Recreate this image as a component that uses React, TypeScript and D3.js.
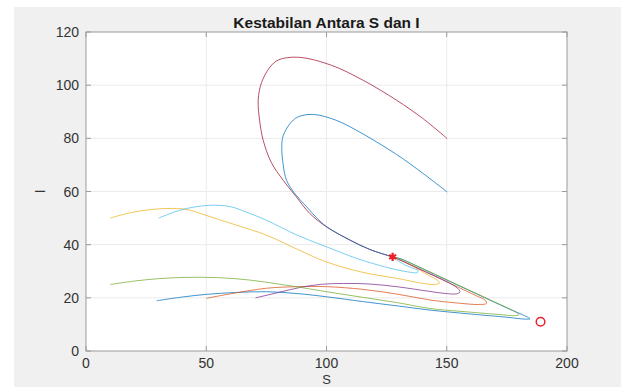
import React from 'react'
import * as d3 from 'd3'

// trajectory points [S, I]
const traj1: [number, number][] = [
    [29.4, 18.9], [40, 20.3], [50, 21.3], [62, 22.0], [75, 22.3], [88, 21.6], [100, 20.4],
    [115, 18.6], [130, 16.9], [143, 15.4], [160, 13.9], [175, 12.7], [182.5, 12.0], [184.6, 12.1],
    [183, 13.0], [175, 16.2], [165, 20.4], [155, 24.6], [145, 28.8], [137, 32.2], [130.6, 34.8], [127.5, 35.4],
]
const traj2: [number, number][] = [
    [50, 19.8], [60, 21.5], [75, 23.6], [88, 24.2], [100, 24.2], [115, 23.2], [130, 21.3],
    [143, 19.2], [155, 18.0], [163, 17.5], [166.5, 17.9], [166, 19.1], [162, 20.9], [155, 23.9],
    [145, 28.2], [136, 32.0], [127.5, 35.4],
]
const traj3: [number, number][] = [
    [10, 50], [20, 52.3], [33, 53.6], [42, 53.2], [50, 51], [62, 47.5], [75, 43.6], [88, 38.2],
    [100, 33.5], [115, 29.6], [130, 27.2], [141, 25.3], [145, 25.0], [147, 25.6], [146, 26.7],
    [143, 28.2], [138, 30.8], [132, 33.6], [127.5, 35.4],
]
const traj4: [number, number][] = [
    [70.5, 20], [80, 22], [89, 23.9], [98, 25.1], [107, 25.4], [118, 25.2], [130, 24.1],
    [143, 22.4], [150, 21.6], [154, 21.5], [155.5, 22.2], [154.5, 23.6], [151, 25.6], [145, 28.2],
    [138, 31.1], [131, 34.1], [127.5, 35.4],
]
const traj5: [number, number][] = [
    [10, 25], [20, 26.3], [30, 27.2], [41.6, 27.7], [55, 27.6], [68, 26.7], [80, 25.2], [90, 23.8],
    [100, 22.3], [115, 20.2], [130, 18.1], [143, 16.0], [160, 14.6], [172, 13.7], [178, 13.3],
    [180, 13.6], [178.5, 14.7], [170, 18.4], [160, 22.6], [150, 26.8], [140, 31.0], [131, 34.5], [127.5, 35.4],
]
const traj6: [number, number][] = [
    [30.2, 50], [40, 53.2], [51.3, 54.8], [60, 54.3], [68.2, 51.7], [75, 49.2], [88, 43.5],
    [100, 39.2], [112, 35.0], [122, 32.2], [130, 30.4], [135, 29.6], [137.8, 29.5], [138, 30.3],
    [136, 31.1], [133, 32.2], [130, 33.8], [127.5, 35.4],
]
const traj7: [number, number][] = [
    [150.2, 79.9], [140, 87.5], [129.2, 94.3], [115.3, 101.8], [102, 107.5], [88.3, 110.5],
    [80, 109.5], [76.5, 106.8], [73, 101], [71.6, 94.3], [72.3, 86], [73.7, 79.2], [77, 71],
    [82, 64.2], [87, 58.5], [93.1, 51.7], [100, 46.7], [109.8, 41.7], [118, 38.2], [127.5, 35.4],
]
const traj8: [number, number][] = [
    [150.2, 59.8], [140, 66.9], [129.2, 73.9], [112.5, 83], [104, 86.8], [94.5, 89], [88, 88],
    [84.8, 85.5], [82, 81], [81.4, 76.7], [82, 70], [83.4, 64.2], [87, 59], [91.8, 54.2],
    [96, 50], [100, 46.8], [109.8, 41.7], [118, 38.2], [127.5, 35.4],
]
const trajectories = [traj1, traj2, traj3, traj4, traj5, traj6, traj7, traj8]
const colors = ['#0072BD', '#D95319', '#EDB120', '#7E2F8E', '#77AC30', '#4DBEEE', '#A2142F', '#0072BD']

const endemicPoint: [number, number] = [127.5, 35.4]
const diseaseFreePoint: [number, number] = [189, 11]

const xTicks = [0, 50, 100, 150, 200]
const yTicks = [0, 20, 40, 60, 80, 100, 120]

const App: React.FC = () => {
    const width = 621
    const height = 387
    const left = 86, right = 567, top = 32, bottom = 351

    const x = d3.scaleLinear().domain([0, 200]).range([left, right])
    const y = d3.scaleLinear().domain([0, 120]).range([bottom, top])

    const line = d3.line<[number, number]>()
        .x(d => x(d[0]))
        .y(d => y(d[1]))
        .curve(d3.curveCatmullRom.alpha(0.5))

    const star = d3.symbol().type(d3.symbolAsterisk).size(45)()
    const font = 'Liberation Sans, Arial, Helvetica, sans-serif'

    return (
        <svg width={width} height={height} style={{ position: 'absolute', left: 0, top: 0 }} fontFamily={font}>
            <rect x={0} y={0} width={width} height={height} fill="#ffffff" />
            <rect x={14} y={7} width={width - 14} height={height - 7} fill="#f0f0f0" />
            <rect x={left} y={top} width={right - left} height={bottom - top} fill="#ffffff" />

            {/* grid */}
            {xTicks.slice(1, -1).map(t => (
                <line key={'gx' + t} x1={x(t)} x2={x(t)} y1={top} y2={bottom} stroke="#ebebeb" strokeWidth={1} />
            ))}
            {yTicks.slice(1, -1).map(t => (
                <line key={'gy' + t} x1={left} x2={right} y1={y(t)} y2={y(t)} stroke="#ebebeb" strokeWidth={1} />
            ))}

            {/* trajectories */}
            {trajectories.map((t, i) => (
                <path key={i} d={line(t) ?? ''} fill="none" stroke={colors[i]} strokeWidth={1} strokeOpacity={0.75} />
            ))}

            <g transform={`translate(${x(endemicPoint[0])},${y(endemicPoint[1])})`}>
                <path d={star ?? ''} fill="none" stroke="#ee1c25" strokeWidth={2.2} />
            </g>
            <circle cx={x(diseaseFreePoint[0])} cy={y(diseaseFreePoint[1])} r={4.3} fill="none" stroke="#e8202a" strokeWidth={1.5} />

            {/* box and ticks */}
            <rect x={left} y={top} width={right - left} height={bottom - top} fill="none" stroke="#9a9a9a" strokeWidth={1} />
            {xTicks.map(t => (
                <g key={'tx' + t}>
                    <line x1={x(t)} x2={x(t)} y1={bottom} y2={bottom - 5} stroke="#9a9a9a" />
                    <line x1={x(t)} x2={x(t)} y1={top} y2={top + 5} stroke="#9a9a9a" />
                    <text x={x(t)} y={368} textAnchor="middle" fontSize={14} fill="#333333">{t}</text>
                </g>
            ))}
            {yTicks.map(t => (
                <g key={'ty' + t}>
                    <line x1={left} x2={left + 5} y1={y(t)} y2={y(t)} stroke="#9a9a9a" />
                    <line x1={right} x2={right - 5} y1={y(t)} y2={y(t)} stroke="#9a9a9a" />
                    <text x={79} y={y(t) + 5} textAnchor="end" fontSize={14} fill="#333333">{t}</text>
                </g>
            ))}

            <text x={(left + right) / 2} y={28} textAnchor="middle" fontSize={15.5} fontWeight="bold" fill="#1a1a1a">
                Kestabilan Antara S dan I
            </text>
            <text x={(left + right) / 2} y={384} textAnchor="middle" fontSize={13} fill="#333333">S</text>
            <text transform={`translate(44.5,${(top + bottom) / 2}) rotate(-90)`} textAnchor="middle" fontSize={15} fill="#333333">I</text>
        </svg>
    )
}

export default App
